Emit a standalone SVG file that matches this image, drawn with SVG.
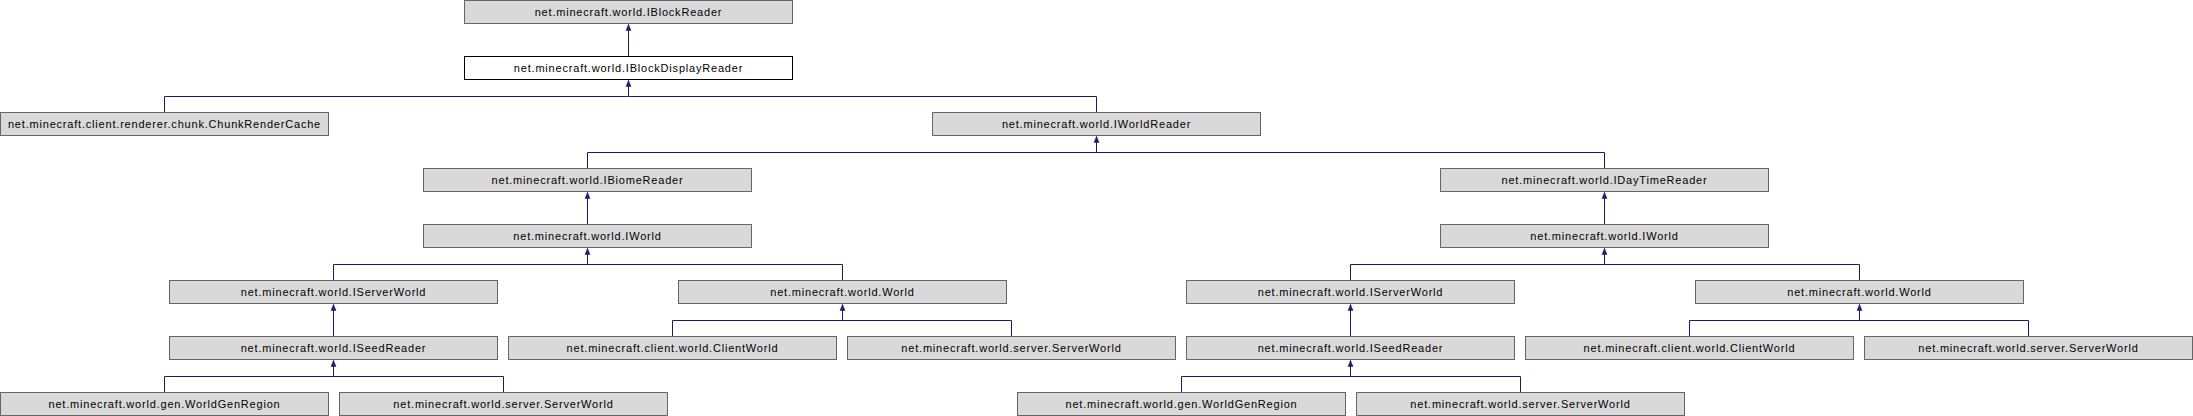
<svg xmlns="http://www.w3.org/2000/svg" width="2193" height="416" viewBox="0 0 2193 416">
<style>
.n rect{fill:#D9D9D9;stroke:#666666;stroke-width:1}
.cur rect{fill:#FFFFFF;stroke:#000000;stroke-width:1}
.n text{font-family:"Liberation Sans",Arial,sans-serif;font-size:11px;letter-spacing:0.8px;text-anchor:middle;fill:#000000}
#edges path{fill:none;stroke:#191970;stroke-width:1}
</style>
<defs>
<marker id="arr" markerUnits="userSpaceOnUse" markerWidth="8" markerHeight="8" viewBox="-4 -1 8 8" refX="0" refY="0" orient="auto-start-reverse">
<path d="M0,0 L2.5,6 L-2.5,6 Z" fill="#191970" stroke="#191970" stroke-width="0.5" transform="rotate(90)"/>
</marker>
<marker id="up" markerUnits="userSpaceOnUse" markerWidth="8" markerHeight="8" viewBox="-4 -1 8 8" refX="0" refY="0" orient="0">
<path d="M0,0 L2.5,6 L-2.5,6 Z" fill="#191970" stroke="#191970" stroke-width="0.5"/>
</marker>
</defs>
<rect width="2193" height="416" fill="#FFFFFF"/>
<g id="edges">
<path d="M628.5,56 V24.5" marker-end="url(#up)"/>
<path d="M164.5,112 V96.5 H628.5 M1096.5,112 V96.5 H628.5 M628.5,96.5 V80.5" marker-end="url(#up)"/>
<path d="M587.5,168 V152.5 H1604.5 V168 M1096.5,152.5 V136.5" marker-end="url(#up)"/>
<path d="M587.5,224 V192.5" marker-end="url(#up)"/>
<path d="M1604.5,224 V192.5" marker-end="url(#up)"/>
<path d="M333.5,280 V264.5 H842.5 V280 M587.5,264.5 V248.5" marker-end="url(#up)"/>
<path d="M1350.5,280 V264.5 H1859.5 V280 M1604.5,264.5 V248.5" marker-end="url(#up)"/>
<path d="M333.5,336 V304.5" marker-end="url(#up)"/>
<path d="M1350.5,336 V304.5" marker-end="url(#up)"/>
<path d="M672.5,336 V320.5 H1011.5 V336 M842.5,320.5 V304.5" marker-end="url(#up)"/>
<path d="M1689.5,336 V320.5 H2028.5 V336 M1859.5,320.5 V304.5" marker-end="url(#up)"/>
<path d="M164.5,392 V376.5 H503.5 V392 M333.5,376.5 V360.5" marker-end="url(#up)"/>
<path d="M1181.5,392 V376.5 H1520.5 V392 M1350.5,376.5 V360.5" marker-end="url(#up)"/>
</g>
<g id="IBlockReader" class="n"><rect x="464.5" y="0.5" width="328" height="23"/><text x="628.5" y="16">net.minecraft.world.IBlockReader</text></g>
<g id="IBlockDisplayReader" class="n cur"><rect x="464.5" y="56.5" width="328" height="23"/><text x="628.5" y="72">net.minecraft.world.IBlockDisplayReader</text></g>
<g id="ChunkRenderCache" class="n"><rect x="0.5" y="112.5" width="328" height="23"/><text x="164.5" y="128">net.minecraft.client.renderer.chunk.ChunkRenderCache</text></g>
<g id="IWorldReader" class="n"><rect x="932.5" y="112.5" width="328" height="23"/><text x="1096.5" y="128">net.minecraft.world.IWorldReader</text></g>
<g id="IBiomeReader" class="n"><rect x="423.5" y="168.5" width="328" height="23"/><text x="587.5" y="184">net.minecraft.world.IBiomeReader</text></g>
<g id="IDayTimeReader" class="n"><rect x="1440.5" y="168.5" width="328" height="23"/><text x="1604.5" y="184">net.minecraft.world.IDayTimeReader</text></g>
<g id="IWorld1" class="n"><rect x="423.5" y="224.5" width="328" height="23"/><text x="587.5" y="240">net.minecraft.world.IWorld</text></g>
<g id="IWorld2" class="n"><rect x="1440.5" y="224.5" width="328" height="23"/><text x="1604.5" y="240">net.minecraft.world.IWorld</text></g>
<g id="IServerWorld1" class="n"><rect x="169.5" y="280.5" width="328" height="23"/><text x="333.5" y="296">net.minecraft.world.IServerWorld</text></g>
<g id="World1" class="n"><rect x="678.5" y="280.5" width="328" height="23"/><text x="842.5" y="296">net.minecraft.world.World</text></g>
<g id="IServerWorld2" class="n"><rect x="1186.5" y="280.5" width="328" height="23"/><text x="1350.5" y="296">net.minecraft.world.IServerWorld</text></g>
<g id="World2" class="n"><rect x="1695.5" y="280.5" width="328" height="23"/><text x="1859.5" y="296">net.minecraft.world.World</text></g>
<g id="ISeedReader1" class="n"><rect x="169.5" y="336.5" width="328" height="23"/><text x="333.5" y="352">net.minecraft.world.ISeedReader</text></g>
<g id="ClientWorld1" class="n"><rect x="508.5" y="336.5" width="328" height="23"/><text x="672.5" y="352">net.minecraft.client.world.ClientWorld</text></g>
<g id="ServerWorld1" class="n"><rect x="847.5" y="336.5" width="328" height="23"/><text x="1011.5" y="352">net.minecraft.world.server.ServerWorld</text></g>
<g id="ISeedReader2" class="n"><rect x="1186.5" y="336.5" width="328" height="23"/><text x="1350.5" y="352">net.minecraft.world.ISeedReader</text></g>
<g id="ClientWorld2" class="n"><rect x="1525.5" y="336.5" width="328" height="23"/><text x="1689.5" y="352">net.minecraft.client.world.ClientWorld</text></g>
<g id="ServerWorld2" class="n"><rect x="1864.5" y="336.5" width="328" height="23"/><text x="2028.5" y="352">net.minecraft.world.server.ServerWorld</text></g>
<g id="WorldGenRegion1" class="n"><rect x="0.5" y="392.5" width="328" height="23"/><text x="164.5" y="408">net.minecraft.world.gen.WorldGenRegion</text></g>
<g id="ServerWorld3" class="n"><rect x="339.5" y="392.5" width="328" height="23"/><text x="503.5" y="408">net.minecraft.world.server.ServerWorld</text></g>
<g id="WorldGenRegion2" class="n"><rect x="1017.5" y="392.5" width="328" height="23"/><text x="1181.5" y="408">net.minecraft.world.gen.WorldGenRegion</text></g>
<g id="ServerWorld4" class="n"><rect x="1356.5" y="392.5" width="328" height="23"/><text x="1520.5" y="408">net.minecraft.world.server.ServerWorld</text></g>
</svg>
